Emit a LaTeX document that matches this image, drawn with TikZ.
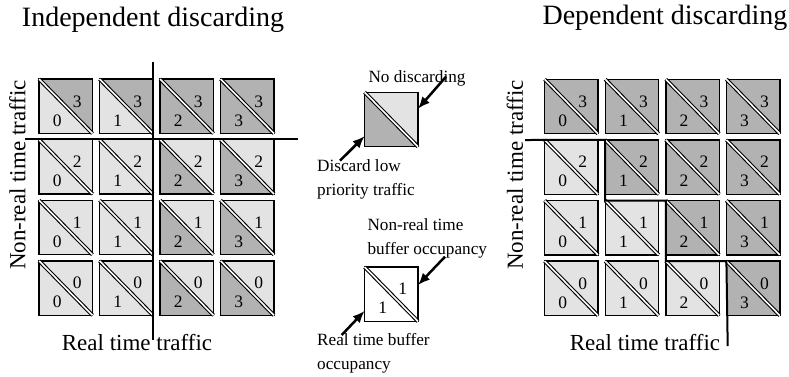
\documentclass[tikz,border=0pt]{standalone}
\usepackage{fontspec}
\setmainfont{Liberation Serif}
\usetikzlibrary{arrows.meta}

\definecolor{claro}{gray}{0.89}
\definecolor{oscuro}{gray}{0.70}

\tikzset{
  celdabox/.style={rectangle, minimum width=53pt, minimum height=54pt, inner sep=0pt},
  borde/.style={line width=1.4pt, black},
  diagonal/.style={line width=1.1pt, black, double=white, double distance=1.6pt},
  digito/.style={inner sep=0pt, font=\fontsize{17.5}{18}\selectfont},
  titulo/.style={inner sep=0pt, font=\fontsize{28}{30}\selectfont},
  eje/.style={inner sep=0pt, font=\fontsize{23}{25}\selectfont},
  leyenda/.style={inner sep=0pt, anchor=base west, font=\fontsize{17.2}{19}\selectfont},
  corte/.style={line width=2pt, black},
  flecha/.style={line width=2.5pt, -{Latex[length=12pt,width=10pt]}}
}

% celda: nombre, x, y, color tiempo real, color no tiempo real, ocupacion TR, ocupacion NTR
\newcommand{\celda}[7]{%
  \node[celdabox] (#1) at (#2,#3) {};
  \fill[#4] (#1.north west) -- (#1.south west) -- (#1.south east) -- cycle;
  \fill[#5] (#1.north west) -- (#1.north east) -- (#1.south east) -- cycle;
  \draw[borde] (#1.north west) rectangle (#1.south east);
  \draw[diagonal] (#1.north west) -- (#1.south east);
  \node[digito] (#1-tr) at ([shift={(-8.5,14)}]#1.center) {#6};
  \node[digito] (#1-ntr) at ([shift={(11.5,-5)}]#1.center) {#7};
}

\begin{document}
\begin{tikzpicture}[x=1pt,y=-1pt]
\useasboundingbox (0,0) rectangle (789,376);

% Titulos
\node[titulo, anchor=base] (tit-ind) at (153,26) {Independent discarding};
\node[titulo, anchor=base] (tit-dep) at (665,24) {Dependent discarding};

% Descarte independiente
\foreach \i in {0,...,3}{
  \foreach \j in {0,...,3}{
    \ifnum\i>1 \def\ctr{oscuro}\else\def\ctr{claro}\fi
    \ifnum\j=3 \def\cntr{oscuro}\else\def\cntr{claro}\fi
    \pgfmathsetmacro{\cx}{65.8+60.5*\i}
    \pgfmathsetmacro{\cy}{106.3+60.6*(3-\j)}
    \celda{ind-\i-\j}{\cx}{\cy}{\ctr}{\cntr}{\i}{\j}
  }
}
\coordinate (ind-v1) at (153,61.7);
\coordinate (ind-v2) at (153,340);
\coordinate (ind-h1) at (25,138.8);
\coordinate (ind-h2) at (298,138.8);
\draw[corte] (ind-v1) -- (ind-v2);
\draw[corte] (ind-h1) -- (ind-h2);

\node[eje, rotate=90] (ind-ntr) at (17.5,175) {Non-real time traffic};
\node[eje] (ind-tr) at (137,343) {Real time traffic};

% Descarte dependiente
\foreach \i in {0,...,3}{
  \foreach \j in {0,...,3}{
    \pgfmathtruncatemacro{\suma}{\i+\j}
    \ifnum\suma>2 \def\cdep{oscuro}\else\def\cdep{claro}\fi
    \pgfmathsetmacro{\cx}{571.3+60.6*\i}
    \pgfmathsetmacro{\cy}{106.5+60.6*(3-\j)}
    \celda{dep-\i-\j}{\cx}{\cy}{\cdep}{\cdep}{\i}{\j}
  }
}
\coordinate (dep-ini) at (525,140);
\coordinate (dep-fin) at (727.7,346);
\draw[corte] (dep-ini) -- (dep-1-2.north west) |- (dep-2-1.north west)
  |- (dep-3-0.north west) -- (dep-fin);

\node[eje, rotate=90] (dep-ntr) at (515,175) {Non-real time traffic};
\node[eje] (dep-tr) at (645,343) {Real time traffic};

% Leyenda
\celda{legA}{391.3}{119.5}{oscuro}{claro}{}{}
\celda{legB}{391.3}{294.2}{white}{white}{1}{1}

\node[leyenda, anchor=base] (no-desc) at (417,82.7) {No discarding};
\node[leyenda] (desc1) at (317,171.7) {Discard low};
\node[leyenda] (desc2) at (317,195) {priority traffic};
\node[leyenda] (ocup-ntr1) at (367.3,230.7) {Non-real time};
\node[leyenda] (ocup-ntr2) at (367.3,254.3) {buffer occupancy};
\node[leyenda] (ocup-tr1) at (317,345) {Real time buffer};
\node[leyenda] (ocup-tr2) at (317,369) {occupancy};

\coordinate (cola-a) at (446,76.7);
\coordinate (cola-b) at (340,160.7);
\coordinate (cola-c) at (445,256.7);
\coordinate (cola-d) at (341.7,335);
\draw[flecha] (cola-a) -- (legA.22);
\draw[flecha] (cola-b) -- (legA.212);
\draw[flecha] (cola-c) -- (legB.19);
\draw[flecha] (cola-d) -- (legB.212);
\end{tikzpicture}
\end{document}
